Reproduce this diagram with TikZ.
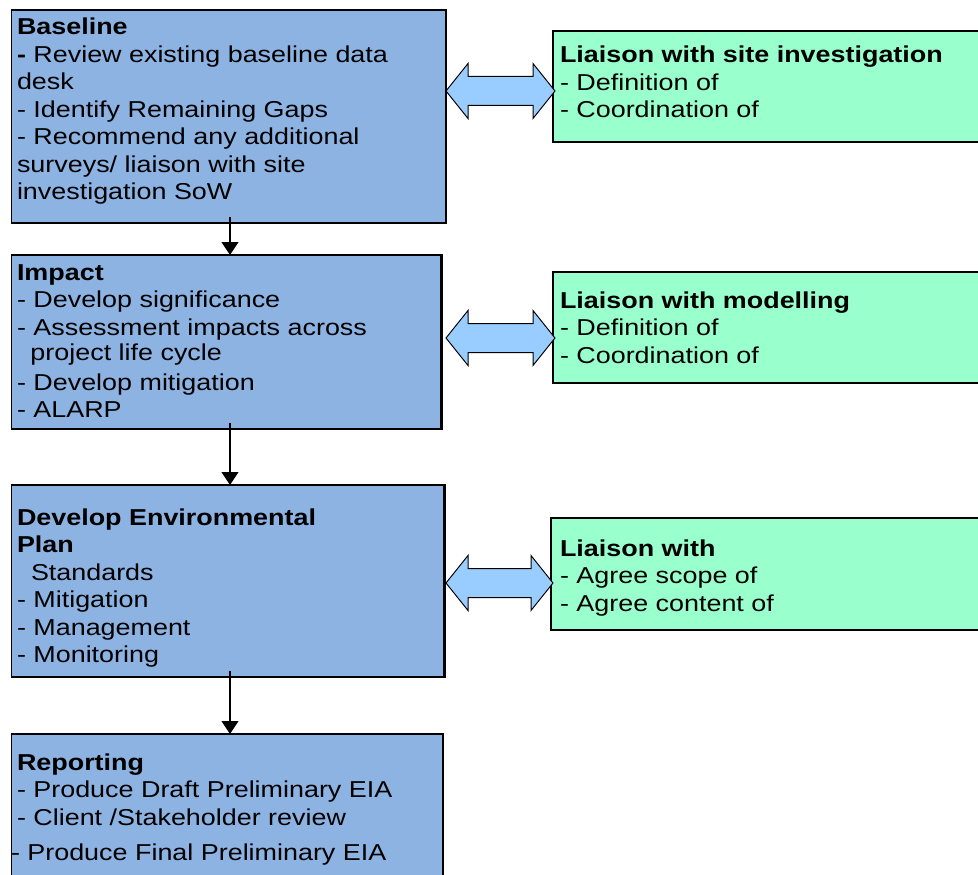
\documentclass[tikz,border=0pt]{standalone}
\usepackage{fontspec}
\setmainfont{Liberation Sans}[FakeStretch=1.17]
\usetikzlibrary{arrows.meta,calc}

\definecolor{boxblue}{RGB}{141,179,226}
\definecolor{boxgreen}{RGB}{153,255,204}
\definecolor{arrowblue}{RGB}{153,204,255}

\tikzset{
  stage/.style={draw=black, line width=1pt, fill=boxblue, anchor=north west,
                inner sep=0pt, outer sep=0pt},
  liaison/.style={draw=black, line width=2.6pt, fill=boxgreen, anchor=north west,
                  inner sep=0pt, outer sep=0pt},
  heavy edge/.style={line width=2.6pt, line join=miter},
  txt/.style={anchor=base west, inner sep=0pt, outer sep=0pt,
              font=\fontsize{23}{27.5}\selectfont},
  flow/.style={line width=1.3pt, -{Triangle[width=17pt,length=13pt]}},
  fat arrow/.style={draw=black, line width=1pt, fill=arrowblue, line join=miter,
    to path={let \p1=(\tikztostart), \p2=(\tikztotarget) in
      -- (\x1+22pt,\y1+27.5pt) -- (\x1+22pt,\y1+14.5pt)
      -- (\x2-22pt,\y1+14.5pt) -- (\x2-22pt,\y1+27.5pt)
      -- (\x2,\y1)
      -- (\x2-22pt,\y1-27.5pt) -- (\x2-22pt,\y1-14.5pt)
      -- (\x1+22pt,\y1-14.5pt) -- (\x1+22pt,\y1-27.5pt)
      -- cycle}}
}

\begin{document}
\begin{tikzpicture}[x=1pt,y=-1pt]
\useasboundingbox (0,0) rectangle (978,875);
\clip (0,0) rectangle (978,875);
\fill[white] (0,0) rectangle (978,875);

% stage boxes (left column)
\node[stage, minimum width=435pt,   minimum height=213pt] (base)   at (11,10)  {};
\node[stage, minimum width=430.5pt, minimum height=174pt] (impact) at (11,255) {};
\node[stage, minimum width=433.5pt, minimum height=192pt] (plan)   at (11,485) {};
\node[stage, minimum width=432pt,   minimum height=160pt] (report) at (11,734) {};
\foreach \n in {base,impact,plan,report}
  \draw[heavy edge] (\n.north west) -- (\n.north east) -- (\n.south east) -- (\n.south west);

% liaison boxes (right column)
\node[liaison, minimum width=440pt, minimum height=111pt] (liasite)  at (553,31)  {};
\node[liaison, minimum width=440pt, minimum height=111pt] (liamodel) at (553,272) {};
\node[liaison, minimum width=440pt, minimum height=112pt] (liaother) at (551,518) {};

% texts
\node[txt] (baseTxt) at (17,35) {\begin{tabular}[t]{@{}l@{}}
\textbf{Baseline}\\
\textbf{-} Review existing baseline data\\
desk\\
- Identify Remaining Gaps\\
- Recommend any additional\\
surveys/ liaison with site\\
investigation SoW
\end{tabular}};

\node[txt] (impactTxt) at (17,280) {\begin{tabular}[t]{@{}l@{}}
\textbf{Impact}\\
- Develop significance\\
- Assessment impacts across\\[-2.5pt]
\hspace*{13.5pt}project life cycle\\[2.5pt]
- Develop mitigation\\
- ALARP
\end{tabular}};

\node[txt] (planTxt) at (17,525) {\begin{tabular}[t]{@{}l@{}}
\textbf{Develop Environmental}\\
\textbf{Plan}\\
\hspace*{14pt}Standards\\
- Mitigation\\
- Management\\
- Monitoring
\end{tabular}};

\node[txt] (reportTxt) at (17,770) {\begin{tabular}[t]{@{}l@{}}
\textbf{Reporting}\\
- Produce Draft Preliminary EIA\\
- Client /Stakeholder review\\[7.5pt]
\hspace*{-6pt}- Produce Final Preliminary EIA
\end{tabular}};

\node[txt] (liasiteTxt) at (560,63) {\begin{tabular}[t]{@{}l@{}}
\textbf{Liaison with site investigation}\\
- Definition of\\
- Coordination of
\end{tabular}};

\node[txt] (liamodelTxt) at (560,308) {\begin{tabular}[t]{@{}l@{}}
\textbf{Liaison with modelling}\\
- Definition of\\
- Coordination of
\end{tabular}};

\node[txt] (liaotherTxt) at (560,556) {\begin{tabular}[t]{@{}l@{}}
\textbf{Liaison with}\\
- Agree scope of\\
- Agree content of
\end{tabular}};

% anchor points for the connectors
\coordinate (ax) at (230,0);
\coordinate (j1) at (446,91);
\coordinate (j2) at (446,338);
\coordinate (j3) at (446,583);

% two-way links between stages and liaison boxes
\draw[fat arrow] (j1) to ([xshift=2pt]liasite.west |- j1);
\draw[fat arrow] (j2) to ([xshift=2pt]liamodel.west |- j2);
\draw[fat arrow] (j3) to ([xshift=2pt]liaother.west |- j3);

% flow between stages
\draw[flow] ([yshift=6pt]base.south -| ax)   -- (impact.north -| ax);
\draw[flow] ([yshift=6pt]impact.south -| ax) -- (plan.north -| ax);
\draw[flow] ([yshift=6pt]plan.south -| ax)   -- (report.north -| ax);
\end{tikzpicture}
\end{document}
